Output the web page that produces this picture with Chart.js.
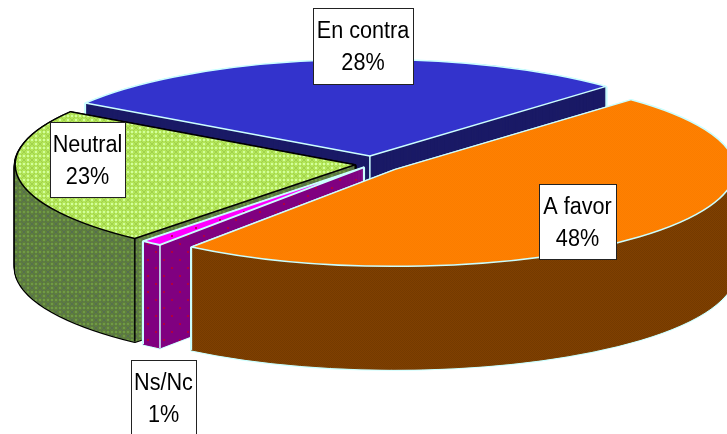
<!DOCTYPE html>
<html>
<head>
<meta charset="utf-8">
<title>A favor / En contra</title>
<script src="https://cdn.jsdelivr.net/npm/chart.js@4"></script>
<style>
  html, body { margin: 0; padding: 0; background: #fff; overflow: hidden; }
  canvas { display: block; }
</style>
</head>
<body>
<canvas id="pie" width="727" height="434"></canvas>
<script>
const categories = ["A favor", "Ns/Nc", "Neutral", "En contra"];
const shares = [48, 1, 23, 28];
const explode = [29, 15, 18, 28];
const edgeColors = ["#ccffff", "#ccffff", "#000000", "#ccffff"];

// label boxes: left, top, width, height
const labelBoxes = [
  [539, 184, 77, 75],
  [131, 360, 65, 75],
  [50, 122, 75, 75],
  [313, 8, 100, 76],
];

// view of the tilted pie
const tilt = 0.285;
const depth = 103;
const centerX = 373;
const centerY = 164;

function makePattern(size, base, paint) {
  const c = document.createElement("canvas");
  c.width = c.height = size;
  const g = c.getContext("2d");
  g.fillStyle = base;
  g.fillRect(0, 0, size, size);
  paint(g);
  return g.createPattern(c, "repeat");
}

function checker(other) {
  return (g) => {
    g.fillStyle = other;
    g.fillRect(0, 0, 1, 1);
    g.fillRect(1, 1, 1, 1);
  };
}

function lattice(light, dark) {
  return (g) => {
    g.fillStyle = dark;
    for (let i = 0; i < 8; i++) {
      g.fillRect(i, i, 1, 1);
      g.fillRect(i, 7 - i, 1, 1);
    }
    g.fillStyle = light;
    g.fillRect(3, 0, 2, 1);
    g.fillRect(3, 7, 2, 1);
    g.fillRect(0, 3, 1, 2);
    g.fillRect(7, 3, 1, 2);
    g.fillRect(3, 3, 2, 2);
  };
}

function dots(color) {
  return (g) => {
    g.fillStyle = color;
    g.fillRect(3, 3, 2, 2);
    g.fillRect(11, 11, 2, 2);
  };
}

const topFills = [
  makePattern(2, "#ff8000", checker("#fa7d00")),
  makePattern(16, "#ff00ff", dots("#c00060")),
  makePattern(8, "#b4e65a", lattice("#d2ff9c", "#a0d24b")),
  "#3333cc",
];
const wallFills = [
  makePattern(2, "#804000", checker("#743a00")),
  makePattern(16, "#800080", dots("#b00040")),
  makePattern(8, "#5f7f3c", lattice("#6f9a46", "#566f50")),
  "#1a1a66",
];

function placeSlice(ctx, arc, i, shift) {
  const mid = (arc.startAngle + arc.endAngle) / 2;
  const tx = centerX - arc.x + Math.cos(mid) * explode[i];
  const ty = centerY - arc.y * tilt + Math.sin(mid) * explode[i] * tilt + shift;
  ctx.setTransform(1, 0, 0, tilt, tx, ty);
}

function fillSlice(ctx, arc, i, fill, shift) {
  placeSlice(ctx, arc, i, shift);
  if (fill instanceof CanvasPattern) {
    fill.setTransform(ctx.getTransform().inverse());
  }
  const saved = arc.options;
  arc.options = Object.assign(Object.create(saved), { backgroundColor: fill });
  arc.draw(ctx);
  arc.options = saved;
}

// outline is stroked after the transform is dropped, so the line keeps its width
function strokeSlice(ctx, arc, i, shift, width, color) {
  placeSlice(ctx, arc, i, shift);
  ctx.beginPath();
  ctx.moveTo(arc.x, arc.y);
  ctx.arc(arc.x, arc.y, arc.outerRadius, arc.startAngle, arc.endAngle);
  ctx.closePath();
  ctx.setTransform(1, 0, 0, 1, 0, 0);
  if (color instanceof CanvasPattern) color.setTransform(new DOMMatrix());
  ctx.strokeStyle = color;
  ctx.lineWidth = width;
  ctx.lineJoin = "round";
  ctx.stroke();
}

function cornerLines(ctx, arc, i) {
  const ends = [arc.startAngle, arc.endAngle].map((a) => [
    arc.x + Math.cos(a) * arc.outerRadius,
    arc.y + Math.sin(a) * arc.outerRadius,
  ]);
  // the front slice's apex edge stays behind its own top face
  const corners = i === 0 ? ends : ends.concat([[arc.x, arc.y]]);
  ctx.strokeStyle = edgeColors[i];
  ctx.lineWidth = 1.5;
  corners.forEach(([x, y]) => {
    placeSlice(ctx, arc, i, 0);
    const p = ctx.getTransform().transformPoint({ x, y });
    ctx.setTransform(1, 0, 0, 1, 0, 0);
    ctx.beginPath();
    ctx.moveTo(p.x, p.y);
    ctx.lineTo(p.x, p.y + depth);
    ctx.stroke();
  });
}

const tiltedPie = {
  id: "tiltedPie",
  beforeDatasetsDraw(chart) {
    const ctx = chart.ctx;
    const arcs = chart.getDatasetMeta(0).data;
    // back to front
    [3, 2, 1, 0].forEach((i) => {
      const arc = arcs[i];
      ctx.save();
      for (let d = depth; d > 0; d--) strokeSlice(ctx, arc, i, d, 3, edgeColors[i]);
      for (let d = depth; d > 0; d--) {
        strokeSlice(ctx, arc, i, d, 1, wallFills[i]);
        fillSlice(ctx, arc, i, wallFills[i], d);
      }
      cornerLines(ctx, arc, i);
      fillSlice(ctx, arc, i, topFills[i], 0);
      strokeSlice(ctx, arc, i, 0, i === 1 ? 2 : 1.5, edgeColors[i]);
      ctx.restore();
    });
    return false;
  },
  afterDraw(chart) {
    const ctx = chart.ctx;
    ctx.save();
    ctx.font = '23px "Liberation Sans", Arial, sans-serif';
    ctx.textAlign = "center";
    ctx.textBaseline = "alphabetic";
    const squeezed = (text, x, y) => ctx.fillText(text, x, y, ctx.measureText(text).width * 0.94);
    labelBoxes.forEach(([x, y, w, h], i) => {
      ctx.fillStyle = "#ffffff";
      ctx.fillRect(x, y, w, h);
      ctx.strokeStyle = "#222222";
      ctx.lineWidth = 1;
      ctx.strokeRect(x + 0.5, y + 0.5, w, h);
      ctx.fillStyle = "#000000";
      squeezed(categories[i], x + w / 2, y + 30);
      squeezed(shares[i] + "%", x + w / 2, y + 62);
    });
    ctx.restore();
  },
};

new Chart(document.getElementById("pie").getContext("2d"), {
  type: "pie",
  data: {
    labels: categories,
    datasets: [
      {
        data: shares,
        backgroundColor: topFills,
        borderWidth: 0,
      },
    ],
  },
  options: {
    responsive: false,
    animation: false,
    rotation: 44,
    radius: 340,
    plugins: {
      legend: { display: false },
      tooltip: { enabled: false },
    },
  },
  plugins: [tiltedPie],
});
</script>
</body>
</html>
